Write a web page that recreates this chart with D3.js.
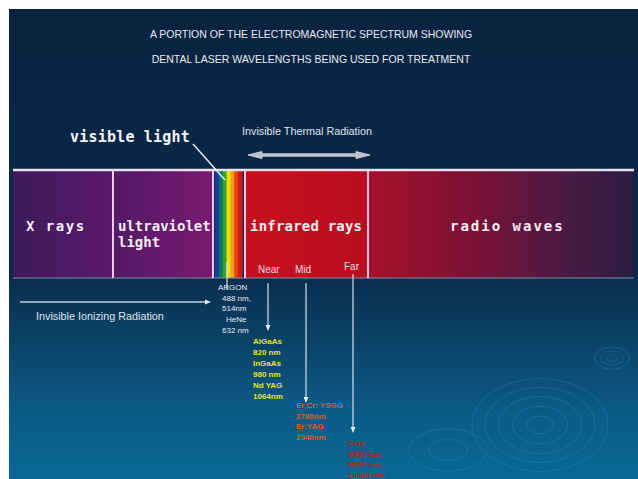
<!DOCTYPE html>
<html><head><meta charset="utf-8">
<script src="https://cdn.jsdelivr.net/npm/d3@7"></script>
<style>html,body{margin:0;padding:0;background:#fff;}svg{display:block;}</style>
</head><body>
<script>
const titleLines = ["A PORTION OF THE ELECTROMAGNETIC SPECTRUM SHOWING","DENTAL LASER WAVELENGTHS BEING USED FOR TREATMENT"];
const regionNames = ["X rays","ultraviolet\nlight","","infrared rays","radio waves"];
const regionSpan = [100,100,32,123,266];
const rainbowColors = ["#1a3aa0","#0a7a5a","#3aa030","#e8e010","#f0a010","#e84010","#d01818"];
const irBands = ["Near","Mid","Far"];
const laserSources = ["visible","Near","Mid","Far"];
const laserSourceUnits = [214,255,293,340];
const laserLabels = [
  ["ARGON","488 nm,","514nm","HeNe","632 nm"],
  ["AlGaAs","820 nm","InGaAs","980 nm","Nd YAG","1064nm"],
  ["Er,Cr: YSGG","2780nm","Er:YAG","2940nm"],
  ["CO2","9300 nm,","9600 nm,","10600 nm"]
];
const laserColors = ["#e8eef8","#ece030","#d8601a","#b82812"];

const W=638,H=479;
const svg=d3.select("body").append("svg").attr("width",W).attr("height",H);
const defs=svg.append("defs");
const bg=defs.append("linearGradient").attr("id","bg").attr("x1",0).attr("x2",0).attr("y1",0).attr("y2",1);
[[0,"#0a2341"],[0.55,"#0a2a4a"],[0.7,"#0b4266"],[0.85,"#0b5a86"],[1,"#0a6896"]].forEach(s=>bg.append("stop").attr("offset",s[0]).attr("stop-color",s[1]));
const xg=defs.append("linearGradient").attr("id","xg");
[[0,"#3e1a5c"],[1,"#5a1a68"]].forEach(s=>xg.append("stop").attr("offset",s[0]).attr("stop-color",s[1]));
const uvg=defs.append("linearGradient").attr("id","uvg");
[[0,"#521a66"],[1,"#7a1a70"]].forEach(s=>uvg.append("stop").attr("offset",s[0]).attr("stop-color",s[1]));
const rg=defs.append("linearGradient").attr("id","rg");
[[0,"#a8102a"],[0.4,"#7a1236"],[0.75,"#4a1a44"],[1,"#2a1c40"]].forEach(s=>rg.append("stop").attr("offset",s[0]).attr("stop-color",s[1]));
const irg=defs.append("linearGradient").attr("id","irg");
[[0,"#c8101c"],[1,"#b80e20"]].forEach(s=>irg.append("stop").attr("offset",s[0]).attr("stop-color",s[1]));
const mk=defs.append("marker").attr("id","ah").attr("viewBox","0 0 10 10").attr("refX",5).attr("refY",5)
  .attr("markerWidth",5).attr("markerHeight",5).attr("orient","auto");
mk.append("path").attr("d","M0,1 L10,5 L0,9 Z").attr("fill","#e8eef8");

svg.append("rect").attr("x",9).attr("y",9).attr("width",W-9).attr("height",H-9).attr("fill","url(#bg)");
// ripples
const rip=svg.append("g").attr("fill","none").attr("stroke","#3a8cc0").attr("stroke-opacity",0.35);
[12,25,38,50,62].forEach(r=>rip.append("ellipse").attr("cx",540).attr("cy",425).attr("rx",r*1.1).attr("ry",r*0.75));
[5,10,16].forEach(r=>rip.append("ellipse").attr("cx",612).attr("cy",358).attr("rx",r*1.1).attr("ry",r*0.7));
[15,30].forEach(r=>rip.append("ellipse").attr("cx",448).attr("cy",450).attr("rx",r*1.3).attr("ry",r*0.7));

const narrow="'Liberation Sans Narrow','Arial Narrow',Arial,sans-serif";
svg.selectAll("text.title").data(titleLines).join("text").attr("class","title")
  .attr("x",311).attr("y",(d,i)=>38+i*25).attr("text-anchor","middle")
  .attr("fill","#e8eaf0").attr("font-family",narrow).attr("font-size",10.5).text(d=>d);

const cum=[0];regionSpan.forEach((v,i)=>cum.push(cum[i]+v));
const x=d3.scaleLinear().domain([0,d3.sum(regionSpan)]).range([13,634]);
const bandTop=170,bandBot=278;
const fills=["url(#xg)","url(#uvg)","none","url(#irg)","url(#rg)"];
const g=svg.append("g");
g.selectAll("rect.reg").data(regionSpan).join("rect").attr("class","reg")
  .attr("x",(d,i)=>x(cum[i])).attr("y",bandTop).attr("width",d=>x(d)-x(0)).attr("height",bandBot-bandTop)
  .attr("fill",(d,i)=>fills[i]);
// rainbow
const rb=d3.scaleBand().domain(d3.range(rainbowColors.length)).range([x(cum[2])+2,x(cum[3])-3]);
g.selectAll("rect.rb").data(rainbowColors).join("rect").attr("class","rb")
  .attr("x",(d,i)=>rb(i)).attr("y",bandTop).attr("width",rb.bandwidth()+0.6).attr("height",bandBot-bandTop).attr("fill",d=>d);
// lines
g.append("line").attr("x1",x(0)).attr("x2",x(cum[5])).attr("y1",bandTop).attr("y2",bandTop).attr("stroke","#e8e0ec").attr("stroke-width",2.5);
g.append("line").attr("x1",x(0)).attr("x2",x(cum[5])).attr("y1",bandBot).attr("y2",bandBot).attr("stroke","#8090a8").attr("stroke-width",1);
g.selectAll("line.div").data(cum.slice(1,5)).join("line").attr("class","div")
  .attr("x1",d=>x(d)).attr("x2",d=>x(d)).attr("y1",bandTop).attr("y2",bandBot)
  .attr("stroke","#f0c8f0").attr("stroke-width",2);
// region labels
const bold="'DejaVu Sans Mono','DejaVu Sans',monospace";
const labelX=[26,118,0,250,450];
const labelLS=[1.5,0,0,0.2,2];
regionNames.forEach((n,i)=>{
  if(!n) return;
  const t=g.append("text").attr("x",labelX[i]).attr("y",231).attr("fill","#f4eef6")
    .attr("font-family",bold).attr("font-weight","bold").attr("font-size",14).attr("letter-spacing",labelLS[i]);
  n.split("\n").forEach((l,j)=>t.append("tspan").attr("x",labelX[i]).attr("dy",j?16:0).text(l));
});
// IR sub-bands
const subX=[258,295,344];
g.selectAll("text.sub").data(irBands).join("text").attr("class","sub")
  .attr("x",(d,i)=>subX[i]).attr("y",(d,i)=>i==2?270:273).attr("fill","#f0dce0")
  .attr("font-family","Arial,sans-serif").attr("font-size",10).text(d=>d);

// visible light label
svg.append("text").attr("x",70).attr("y",142).attr("fill","#f4f4f8").attr("font-family",bold)
  .attr("font-weight","bold").attr("font-size",15).attr("letter-spacing",0.2).text("visible light");
svg.append("line").attr("x1",193).attr("y1",144).attr("x2",225).attr("y2",180).attr("stroke","#e8eef8").attr("stroke-width",1.5);
// thermal
svg.append("text").attr("x",242).attr("y",135).attr("fill","#dfe4ee").attr("font-family",narrow).attr("font-size",10.8).text("Invisible Thermal Radiation");
const ta=svg.append("g").attr("fill","#b8c0cc").attr("stroke","#dfe4ee").attr("stroke-width",0.8);
ta.append("path").attr("d","M248,155 L262,151.5 L262,153.8 L356,153.8 L356,151.5 L370,155 L356,158.5 L356,156.2 L262,156.2 L262,158.5 Z");
// ionizing
svg.append("line").attr("x1",20).attr("x2",208).attr("y1",302).attr("y2",302).attr("stroke","#c8d0dc").attr("stroke-width",1.3).attr("marker-end","url(#ah)");
svg.append("text").attr("x",36).attr("y",320).attr("fill","#dfe4ee").attr("font-family",narrow).attr("font-size",10.8).text("Invisible Ionizing Radiation");

// laser pointers
const startY=[262,283,283,274];
const endY=[290,328,400,430];
const textX=[218,253,296,348];
const textY=[290,344,408,446];
const lineH=[10.7,11,10.5,10.5];
laserSources.forEach((s,i)=>{
  const lx=x(laserSourceUnits[i]);
  svg.append("line").attr("x1",lx).attr("x2",lx).attr("y1",startY[i]).attr("y2",endY[i])
    .attr("stroke","#d8e0ec").attr("stroke-width",1.2).attr("marker-end",i?"url(#ah)":null);
  const t=svg.append("text").attr("fill",laserColors[i]).attr("font-family","Arial,sans-serif")
    .attr("font-size",8).attr("font-weight",i?"bold":"normal");
  laserLabels[i].forEach((l,j)=>t.append("tspan").attr("x",textX[i]+(i==0&&j>0?(j==3?8:4):0)).attr("y",textY[i]+j*lineH[i]).text(l));
});
</script>
</body></html>
